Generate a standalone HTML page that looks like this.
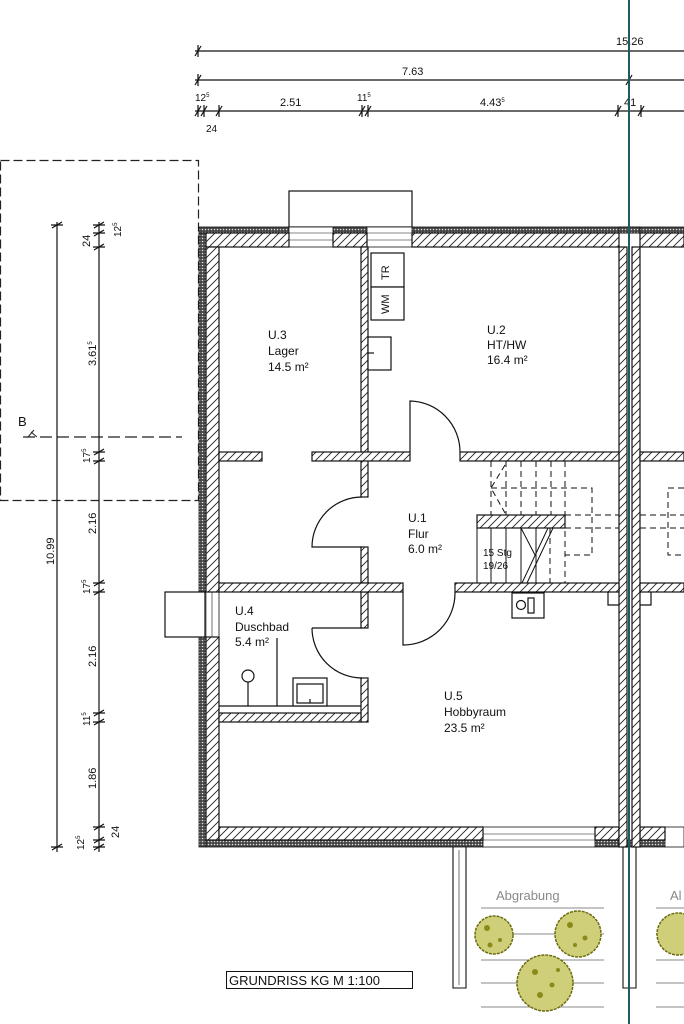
<!DOCTYPE html>
<html><head><meta charset="utf-8"><style>
html,body{margin:0;padding:0;background:#fff;}
svg{display:block;}
text{font-family:"Liberation Sans",sans-serif;fill:#111;}
</style></head><body>
<svg width="684" height="1024" viewBox="0 0 684 1024" xmlns="http://www.w3.org/2000/svg">
<defs>
<pattern id="h" width="8" height="8" patternUnits="userSpaceOnUse">
<rect width="8" height="8" fill="#fff"/>
<path d="M0,8 L8,0 M-2,2 L2,-2 M6,10 L10,6" stroke="#222" stroke-width="0.9"/>
</pattern>
<pattern id="ins" width="3" height="3" patternUnits="userSpaceOnUse">
<rect width="3" height="3" fill="#444"/>
<circle cx="1.5" cy="1.5" r="0.8" fill="#ddd"/>
</pattern>
</defs>

<!-- dashed rect & section -->
<rect x="0.5" y="160.5" width="198" height="340" fill="none" stroke="#222" stroke-width="1.2" stroke-dasharray="9,4"/>
<line x1="23" y1="437" x2="182" y2="437" stroke="#222" stroke-width="1.2" stroke-dasharray="12,5"/>
<path d="M31,432 L37,437 M28,437 L34,430" stroke="#222" stroke-width="1" fill="none"/>
<text x="18" y="426" font-size="13">B</text>

<!-- top dimensions -->
<g stroke="#111" stroke-width="1.2">
<line x1="195" y1="51" x2="684" y2="51"/>
<line x1="195" y1="80" x2="684" y2="80"/>
<line x1="195" y1="111" x2="684" y2="111"/>
</g>
<g stroke="#111" stroke-width="1.2">
<path d="M195,56 L201,46 M198,45 L198,57"/>
<path d="M195,85 L201,75 M198,74 L198,86"/>
<path d="M626,85 L632,75"/>
<path d="M195,116 L201,106 M198,105 L198,117"/>
<path d="M201,116 L207,106 M204,105 L204,117"/>
<path d="M216,116 L222,106 M219,105 L219,117"/>
<path d="M359,116 L365,106 M362,105 L362,117"/>
<path d="M365,116 L371,106 M368,105 L368,117"/>
<path d="M615,116 L621,106 M618,105 L618,117"/>
<path d="M638,116 L644,106 M641,105 L641,117"/>
</g>
<text x="616" y="45" font-size="11">15.26</text>
<text x="402" y="75" font-size="11">7.63</text>
<text x="195" y="101" font-size="10">12<tspan font-size="6" dy="-4">5</tspan></text>
<text x="280" y="106" font-size="11">2.51</text>
<text x="357" y="101" font-size="10">11<tspan font-size="6" dy="-4">5</tspan></text>
<text x="480" y="106" font-size="11">4.43<tspan font-size="6" dy="-4">5</tspan></text>
<text x="624" y="106" font-size="11">41</text>
<text x="206" y="132" font-size="10">24</text>

<!-- left dimensions -->
<g stroke="#111" stroke-width="1.2">
<line x1="57" y1="222" x2="57" y2="852"/>
<line x1="99" y1="222" x2="99" y2="852"/>
<path d="M52,228 L62,222 M51,225 L63,225"/>
<path d="M52,850 L62,844 M51,847 L63,847"/>
</g>
<g stroke="#111" stroke-width="1.2">
<path d="M94,228 L104,222 M93,225 L105,225"/>
<path d="M94,236 L104,230 M93,233 L105,233"/>
<path d="M94,250 L104,244 M93,247 L105,247"/>
<path d="M94,455 L104,449 M93,452 L105,452"/>
<path d="M94,464 L104,458 M93,461 L105,461"/>
<path d="M94,586 L104,580 M93,583 L105,583"/>
<path d="M94,595 L104,589 M93,592 L105,592"/>
<path d="M94,716 L104,710 M93,713 L105,713"/>
<path d="M94,725 L104,719 M93,722 L105,722"/>
<path d="M94,830 L104,824 M93,827 L105,827"/>
<path d="M94,843 L104,837 M93,840 L105,840"/>
<path d="M94,850 L104,844 M93,847 L105,847"/>
</g>
<g font-size="11">
<text transform="translate(54,565) rotate(-90)">10.99</text>
<text transform="translate(90,247) rotate(-90)">24</text>
<text transform="translate(121,237) rotate(-90)" font-size="10">12<tspan font-size="6" dy="-4">5</tspan></text>
<text transform="translate(96,366) rotate(-90)">3.61<tspan font-size="6" dy="-4">5</tspan></text>
<text transform="translate(90,463) rotate(-90)" font-size="10">17<tspan font-size="6" dy="-4">5</tspan></text>
<text transform="translate(96,534) rotate(-90)">2.16</text>
<text transform="translate(90,594) rotate(-90)" font-size="10">17<tspan font-size="6" dy="-4">5</tspan></text>
<text transform="translate(96,667) rotate(-90)">2.16</text>
<text transform="translate(90,726) rotate(-90)" font-size="10">11<tspan font-size="6" dy="-4">5</tspan></text>
<text transform="translate(96,789) rotate(-90)">1.86</text>
<text transform="translate(84,850) rotate(-90)" font-size="10">12<tspan font-size="6" dy="-4">5</tspan></text>
<text transform="translate(119,838) rotate(-90)">24</text>
</g>

<!-- light well top -->
<rect x="289" y="191" width="123" height="36" fill="#fff" stroke="#111" stroke-width="1.2"/>

<!-- insulation -->
<g fill="url(#ins)" stroke="#111" stroke-width="0.8">
<rect x="199" y="227" width="90" height="6"/>
<rect x="333" y="227" width="34" height="6"/>
<rect x="412" y="227" width="272" height="6"/>
<rect x="199" y="233" width="7" height="359"/>
<rect x="199" y="637" width="7" height="210"/>
<rect x="206" y="840" width="277" height="7"/>
<rect x="595" y="840" width="70" height="7"/>
</g>
<!-- windows -->
<g fill="#fff" stroke="#111" stroke-width="0.8">
<rect x="289" y="227" width="44" height="20"/>
<rect x="367" y="227" width="45" height="20"/>
<rect x="199" y="592" width="20" height="45"/>
<rect x="483" y="827" width="112" height="20"/>
<rect x="665" y="827" width="19" height="20"/>
</g>
<g stroke="#111" stroke-width="0.6">
<line x1="289" y1="233" x2="333" y2="233"/><line x1="289" y1="240" x2="333" y2="240"/>
<line x1="367" y1="233" x2="412" y2="233"/><line x1="367" y1="240" x2="412" y2="240"/>
<line x1="206" y1="592" x2="206" y2="637"/><line x1="212" y1="592" x2="212" y2="637"/>
<line x1="483" y1="840" x2="595" y2="840"/><line x1="483" y1="834" x2="595" y2="834"/>
</g>
<rect x="165" y="592" width="40" height="45" fill="#fff" stroke="#111" stroke-width="1.2"/>

<!-- hatched walls -->
<g fill="url(#h)" stroke="#111" stroke-width="1.2">
<rect x="206" y="233" width="83" height="14"/>
<rect x="333" y="233" width="34" height="14"/>
<rect x="412" y="233" width="207" height="14"/>
<rect x="640" y="233" width="44" height="14"/>
<rect x="206" y="247" width="13" height="345"/>
<rect x="206" y="637" width="13" height="203"/>
<rect x="219" y="827" width="264" height="13"/>
<rect x="595" y="827" width="24" height="13"/>
<rect x="640" y="827" width="25" height="13"/>
<rect x="619" y="247" width="8" height="600"/>
<rect x="632" y="247" width="8" height="600"/>
<rect x="361" y="247" width="7" height="250"/>
<rect x="361" y="547" width="7" height="36"/>
<rect x="361" y="592" width="7" height="36"/>
<rect x="361" y="678" width="7" height="44"/>
<rect x="219" y="452" width="43" height="9"/>
<rect x="312" y="452" width="98" height="9"/>
<rect x="460" y="452" width="159" height="9"/>
<rect x="640" y="452" width="44" height="9"/>
<rect x="219" y="583" width="184" height="9"/>
<rect x="455" y="583" width="164" height="9"/>
<rect x="640" y="583" width="44" height="9"/>
<rect x="219" y="713" width="142" height="9"/>
<rect x="477" y="515" width="88" height="13"/>
</g>
<rect x="619" y="227" width="21" height="6" fill="url(#ins)" stroke="#111" stroke-width="0.8"/>
<line x1="219" y1="706" x2="361" y2="706" stroke="#111" stroke-width="1.2"/>

<!-- doors -->
<g fill="none" stroke="#111" stroke-width="1.2">
<path d="M410,452 L410,401 A51,51 0 0 1 460,452"/>
<path d="M362,497 A50,50 0 0 0 312,547 L362,547"/>
<path d="M403,592 L403,645 A52,52 0 0 0 455,592"/>
<path d="M312,628 L362,628 M312,628 A50,50 0 0 0 362,678"/>
</g>

<!-- stairs -->
<g stroke="#111" stroke-width="1" fill="none" stroke-dasharray="6,4">
<line x1="491" y1="461" x2="491" y2="515"/>
<line x1="506" y1="461" x2="506" y2="515"/>
<line x1="521" y1="461" x2="521" y2="515"/>
<line x1="536" y1="461" x2="536" y2="515"/>
<line x1="551" y1="461" x2="551" y2="515"/>
<line x1="565" y1="461" x2="565" y2="583"/>
<line x1="550" y1="528" x2="550" y2="583"/>
<path d="M491,488 L592,488 L592,555 L565,555"/>
<line x1="565" y1="515" x2="619" y2="515"/>
<line x1="565" y1="528" x2="619" y2="528"/>
<path d="M684,488 L668,488 L668,555 L684,555"/>
<line x1="640" y1="515" x2="684" y2="515"/>
<line x1="640" y1="528" x2="684" y2="528"/>
<path d="M505,465 L491,488 L505,513"/>
</g>
<g stroke="#111" stroke-width="1" fill="none">
<line x1="477" y1="528" x2="477" y2="583"/>
<line x1="491" y1="528" x2="491" y2="583"/>
<line x1="506" y1="528" x2="506" y2="583"/>
<line x1="521" y1="528" x2="521" y2="583"/>
<line x1="536" y1="528" x2="536" y2="583"/>
<path d="M521,528 L535,555"/>
<path d="M548,528 L522,583 M553,528 L527,583"/>
</g>
<text x="483" y="556" font-size="10">15 Stg</text>
<text x="483" y="569" font-size="10">19/26</text>

<!-- fixtures -->
<g fill="#fff" stroke="#111" stroke-width="1.2">
<rect x="371" y="253" width="33" height="34"/>
<rect x="371" y="287" width="33" height="33"/>
<rect x="368" y="337" width="23" height="33"/>
<rect x="512" y="593" width="32" height="25"/>
<rect x="528" y="598" width="6" height="15"/>
<circle cx="521" cy="605" r="4.5"/>
<rect x="293" y="678" width="34" height="28"/>
<rect x="297" y="684" width="26" height="19"/>
<circle cx="248" cy="676" r="6"/>
<path d="M608,592 L608,605 L619,605 M651,592 L651,605 L640,605" fill="none"/>
</g>
<g stroke="#111" stroke-width="1.2">
<line x1="248" y1="682" x2="248" y2="706"/>
<line x1="277" y1="638" x2="277" y2="706"/>
<line x1="310" y1="699" x2="310" y2="703"/>
<line x1="368" y1="353" x2="374" y2="353"/>
</g>
<text transform="translate(389,280) rotate(-90)" font-size="11">TR</text>
<text transform="translate(389,314) rotate(-90)" font-size="11">WM</text>

<!-- room labels -->
<g font-size="12">
<text x="268" y="339">U.3</text><text x="268" y="355">Lager</text><text x="268" y="371">14.5 m²</text>
<text x="487" y="334">U.2</text><text x="487" y="349">HT/HW</text><text x="487" y="364">16.4 m²</text>
<text x="408" y="522">U.1</text><text x="408" y="538">Flur</text><text x="408" y="553">6.0 m²</text>
<text x="235" y="615">U.4</text><text x="235" y="631">Duschbad</text><text x="235" y="646">5.4 m²</text>
<text x="444" y="700">U.5</text><text x="444" y="716">Hobbyraum</text><text x="444" y="732">23.5 m²</text>
</g>

<!-- light wells bottom -->
<g fill="none" stroke="#111" stroke-width="1.1">
<path d="M453,847 L453,988 L466,988 L466,847"/>
<line x1="459" y1="850" x2="459" y2="985" stroke-width="0.6"/>
<path d="M623,847 L623,988 L636,988 L636,847"/>
</g>
<g stroke="#888" stroke-width="1">
<line x1="481" y1="908" x2="604" y2="908"/>
<line x1="481" y1="934" x2="604" y2="934"/>
<line x1="481" y1="960" x2="604" y2="960"/>
<line x1="481" y1="983" x2="604" y2="983"/>
<line x1="481" y1="1007" x2="604" y2="1007"/>
<line x1="656" y1="908" x2="684" y2="908"/>
<line x1="656" y1="934" x2="684" y2="934"/>
<line x1="656" y1="960" x2="684" y2="960"/>
<line x1="656" y1="983" x2="684" y2="983"/>
<line x1="656" y1="1007" x2="684" y2="1007"/>
</g>
<text x="496" y="900" font-size="13" style="fill:#888">Abgrabung</text>
<text x="670" y="900" font-size="13" style="fill:#888">Al</text>
<g fill="#cfcf7a" stroke="#6b6b10" stroke-width="1.5" stroke-dasharray="3,1">
<circle cx="494" cy="935" r="19"/>
<circle cx="578" cy="934" r="23"/>
<circle cx="545" cy="983" r="28"/>
<circle cx="678" cy="934" r="21"/>
</g>
<g fill="#8a8a1a">
<circle cx="487" cy="928" r="3"/><circle cx="500" cy="940" r="2"/><circle cx="490" cy="945" r="2.5"/>
<circle cx="570" cy="925" r="3"/><circle cx="585" cy="938" r="2.5"/><circle cx="575" cy="945" r="2"/>
<circle cx="535" cy="972" r="3"/><circle cx="552" cy="985" r="2.5"/><circle cx="540" cy="995" r="3"/><circle cx="558" cy="970" r="2"/>
</g>

<!-- teal axis -->
<line x1="629" y1="0" x2="629" y2="1024" stroke="#1f5a60" stroke-width="2"/>

<!-- title -->
<rect x="226.5" y="971.5" width="186" height="17" fill="#fff" stroke="#111" stroke-width="1"/>
<text x="229" y="985" font-size="13">GRUNDRISS KG M 1:100</text>
</svg>
</body></html>
